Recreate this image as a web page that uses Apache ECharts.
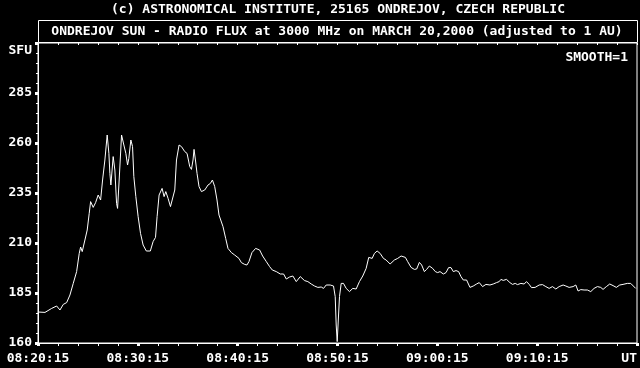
<!DOCTYPE html>
<html>
<head>
<meta charset="utf-8">
<script src="https://cdn.jsdelivr.net/npm/echarts@6/dist/echarts.min.js"></script>
<style>
html,body{margin:0;padding:0;background:#000;}
#c{width:640px;height:368px;}
</style>
</head>
<body>
<div id="c"></div>
<script>
// Elapsed minutes after 08:20:15 UT
const minutes = [
0,0.7,0.87,1.37,1.87,2.2,2.53,2.87,3.2,3.53,3.87,4.13,4.27,4.43,4.7,4.93,5.13,5.27,5.53,5.77,
6.03,6.27,6.47,6.7,6.93,7.1,7.2,7.3,7.53,7.7,7.87,7.97,8.13,8.37,8.6,8.8,8.97,9.1,9.3,9.47,
9.6,9.8,10.03,10.27,10.53,10.85,11.25,11.53,11.77,11.93,12.13,12.43,12.63,12.8,13.03,13.27,13.47,13.7,13.87,14.13,
14.37,14.7,14.93,15.2,15.37,15.53,15.63,15.77,15.93,16.13,16.37,16.7,17.03,17.27,17.47,17.7,17.93,18.13,18.53,18.8,
19.03,19.37,19.7,20.13,20.37,20.7,20.93,21.13,21.43,21.8,22.2,22.5,22.87,23.2,23.47,23.87,24.27,24.6,24.87,25.2,
25.53,25.87,26.27,26.7,27.03,27.37,27.7,28.03,28.37,28.6,28.87,29.27,29.6,29.77,29.87,29.97,30.13,30.2,30.37,30.6,
30.87,31.2,31.53,31.87,32.2,32.53,32.87,33.13,33.47,33.7,33.97,34.27,34.6,34.87,35.27,35.7,36.03,36.37,36.8,37.03,
37.37,37.7,37.93,38.2,38.43,38.7,38.93,39.2,39.53,39.8,40.03,40.27,40.6,40.87,41.13,41.37,41.6,41.87,42.13,42.37,
42.6,42.93,43.27,43.6,43.93,44.2,44.53,44.87,45.27,45.6,45.93,46.2,46.37,46.6,46.93,47.27,47.53,47.8,48.03,48.37,
48.7,48.93,49.2,49.43,49.8,50.2,50.53,50.87,51.2,51.53,51.87,52.2,52.6,52.87,53.2,53.6,53.87,54.1,54.37,54.7,
55.03,55.37,55.7,56.03,56.37,56.6,56.93,57.27,57.6,57.93,58.27,58.6,59.03,59.37,59.53,59.87
];
// Radio flux, SFU
const flux = [
175.5,175.3,176.2,177.3,178.5,176.5,179.3,180.2,184,189.8,195.7,204.8,208,205.7,211.5,216.5,224.8,230.7,227.8,230.2,
234,231.5,241.5,251.5,264,254.8,244.8,239,253.2,246.5,229.8,227.3,241.5,264,259,254.8,249,252.3,261.5,258.2,
243.2,233.2,223.2,214.8,209,206,206,210.7,212.8,223.2,234,237.3,233.2,235.7,232.3,228.2,227.3,236.5,251.5,259,
258.2,255.7,254.8,248.2,246.8,251.5,256.8,251.5,244.8,238.2,235.7,236.5,239,239.8,241.5,238.2,231.5,224,218.2,212.3,
207.3,205.2,204,202.3,200.2,199.3,199,200.7,205.2,207.3,206.5,203.5,200.7,198.2,196.5,195.7,194.5,194.5,192,193,
193.5,190.7,193.2,191.2,190.7,189.5,188.5,187.8,188,187.3,189,189,188.5,183.2,169,160.7,160.7,183.2,189.8,189.8,
187.3,185.7,187.3,187,190.7,193.5,197.3,202.8,202.3,204.8,206,204.8,202.3,201.5,199.5,201.5,202.3,203.5,202.8,200.7,
197.8,196.8,197,200.3,199,195.7,196.8,198.5,197.3,195.7,195.2,195.7,194.5,195.2,197.7,197.7,195.7,196.2,195.7,193.2,
191.5,191.5,187.8,188.5,189.5,190.2,188.2,189.3,189,189.5,190.2,190.7,191.8,191.3,191.8,190.2,189.3,189.8,189.2,189.8,
189.5,190.7,189.3,187.7,187.8,189,189.2,188.2,187.3,188.2,187,188.2,189,188.5,187.8,188.2,189,186,186.7,186.5,
186.5,185.7,187.3,188.2,187.8,186.8,188.2,189.5,188.7,187.8,189,189.3,189.8,189.8,189,187.3
];
const xTickLabels = ['08:20:15','08:30:15','08:40:15','08:50:15','09:00:15','09:10:15','UT'];
const yTickLabels = ['160','185','210','235','260','285'];
const topText = '(c) ASTRONOMICAL INSTITUTE, 25165 ONDREJOV, CZECH REPUBLIC';
const titleText = 'ONDREJOV SUN - RADIO FLUX at 3000 MHz on MARCH 20,2000 (adjusted to 1 AU)';
const unitText = 'SFU';
const smoothText = 'SMOOTH=1';

const FONT = "'DejaVu Sans Mono', monospace";
const data = minutes.map((m, i) => [m, flux[i]]);
const chart = echarts.init(document.getElementById('c'));
chart.setOption({
  backgroundColor: '#000',
  animation: false,
  grid: { left: 38, right: 2, top: 43, bottom: 25, show: true, borderColor: '#fff', borderWidth: 1, backgroundColor: 'transparent' },
  xAxis: [{
    type: 'value', min: 0, max: 60, interval: 10,
    axisLine: { lineStyle: { color: '#fff', width: 1 } },
    axisTick: { show: true, inside: false, length: 3, lineStyle: { color: '#fff', width: 3 } },
    minorTick: { show: true, splitNumber: 5, length: 3, lineStyle: { color: '#fff', width: 1 } },
    splitLine: { show: false },
    axisLabel: {
      color: '#fff', fontFamily: FONT, fontSize: 13, fontWeight: 'bold', margin: 9,
      alignMaxLabel: 'right',
      formatter: (v) => xTickLabels[Math.round(v / 10)]
    }
  }, {
    type: 'value', min: 0, max: 60, interval: 2, position: 'top',
    axisLine: { show: false },
    axisTick: { show: true, inside: true, length: 2, lineStyle: { color: '#fff', width: 1 } },
    axisLabel: { show: false },
    splitLine: { show: false }
  }],
  yAxis: {
    type: 'value', min: 160, max: 310, interval: 25,
    axisLine: { show: true, lineStyle: { color: '#fff', width: 1 } },
    axisTick: { show: true, inside: false, length: 3, lineStyle: { color: '#fff', width: 3 } },
    minorTick: { show: true, splitNumber: 5, length: 2, lineStyle: { color: '#fff', width: 1 } },
    splitLine: { show: false },
    axisLabel: {
      color: '#fff', fontFamily: FONT, fontSize: 13, fontWeight: 'bold', margin: 6,
      showMaxLabel: false,
      formatter: (v) => { const i = Math.round((v - 160) / 25); return yTickLabels[i] || ''; }
    }
  },
  graphic: [
    { type: 'rect', shape: { x: 38.5, y: 20.5, width: 599, height: 22 }, style: { fill: 'none', stroke: '#fff', lineWidth: 1 } },
    { type: 'text', x: 338, y: 10, style: { text: topText, fill: '#fff', font: "bold 13px 'DejaVu Sans Mono'", textAlign: 'center', textVerticalAlign: 'middle' } },
    { type: 'text', x: 337, y: 32, style: { text: titleText, fill: '#fff', font: "bold 13px 'DejaVu Sans Mono'", textAlign: 'center', textVerticalAlign: 'middle' } },
    { type: 'text', x: 32, y: 51, style: { text: unitText, fill: '#fff', font: "bold 13px 'DejaVu Sans Mono'", textAlign: 'right', textVerticalAlign: 'middle' } },
    { type: 'text', x: 628, y: 58, style: { text: smoothText, fill: '#fff', font: "bold 13px 'DejaVu Sans Mono'", textAlign: 'right', textVerticalAlign: 'middle' } }
  ],
  series: [{
    type: 'line', data: data, showSymbol: false, symbol: 'none',
    lineStyle: { color: '#fff', width: 1 }, xAxisIndex: 0
  }]
});
</script>
</body>
</html>
